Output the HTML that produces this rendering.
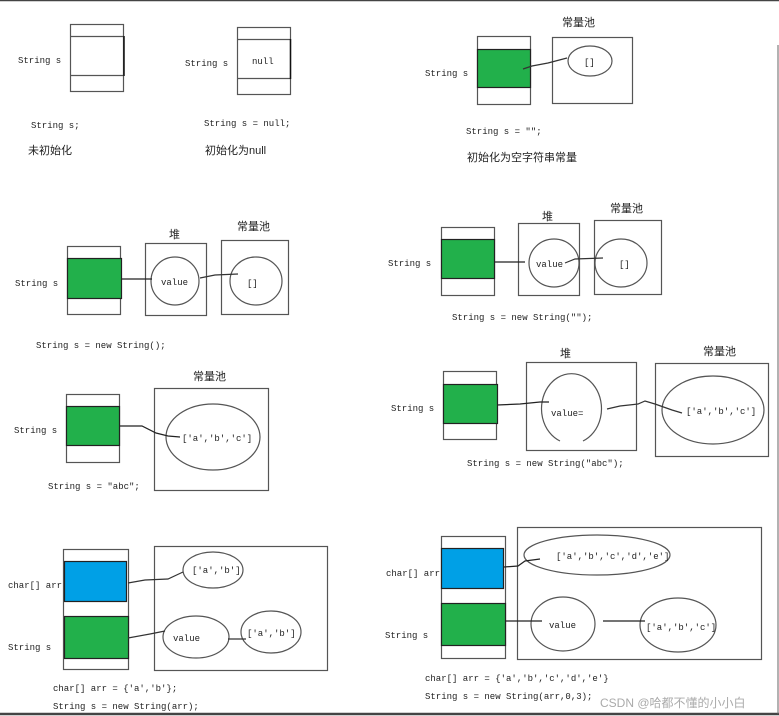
<!DOCTYPE html>
<html><head><meta charset="utf-8"><style>
html,body{margin:0;padding:0;background:#fff;}
svg{display:block;}
text{font-family:"Liberation Mono","Noto Sans CJK SC",monospace;font-size:9px;fill:#222;}
.c{font-family:"Liberation Sans","Noto Sans CJK SC",sans-serif;font-size:11px;}
</style></head><body>
<svg width="779" height="716" viewBox="0 0 779 716" xmlns="http://www.w3.org/2000/svg">
<g fill="none" stroke="#555" stroke-width="1.2">
<line x1="0" y1="0.5" x2="779" y2="0.5" stroke="#444" stroke-width="1.5"/>
<line x1="0" y1="714" x2="779" y2="714" stroke="#444" stroke-width="2.5"/>
<line x1="778" y1="45" x2="778" y2="714" stroke="#666" stroke-width="1"/>

<rect x="70.5" y="24.5" width="53" height="67"/>
<line x1="70" y1="36.5" x2="124" y2="36.5"/><line x1="70" y1="75.5" x2="124" y2="75.5"/>
<line x1="124" y1="36" x2="124" y2="76" stroke="#111" stroke-width="1.5"/>
<rect x="237.5" y="27.5" width="53" height="67"/>
<line x1="237" y1="39.5" x2="291" y2="39.5"/><line x1="237" y1="78.5" x2="291" y2="78.5"/>
<line x1="290.5" y1="39" x2="290.5" y2="79" stroke="#111" stroke-width="1.5"/>
<rect x="477.5" y="36.5" width="53" height="68"/>
<rect x="477.5" y="49.5" width="53" height="38" fill="#22b04b" stroke="#222"/>
<rect x="552.5" y="37.5" width="80" height="66"/>
<ellipse cx="590" cy="61" rx="22" ry="15"/>
<polyline points="523,69 532,66 548,63 567,58" stroke="#333"/>
<rect x="67.5" y="246.5" width="53" height="68"/>
<rect x="67.5" y="258.5" width="54" height="40" fill="#22b04b" stroke="#222"/>
<rect x="145.5" y="243.5" width="61" height="72"/>
<ellipse cx="175" cy="281" rx="24" ry="24"/>
<rect x="221.5" y="240.5" width="67" height="74"/>
<ellipse cx="256" cy="281" rx="26" ry="24"/>
<line x1="121" y1="279" x2="152" y2="279" stroke="#222"/>
<polyline points="200,278 215,275 238,274" stroke="#333"/>
<rect x="441.5" y="227.5" width="53" height="68"/>
<rect x="441.5" y="239.5" width="53" height="39" fill="#22b04b" stroke="#222"/>
<rect x="518.5" y="223.5" width="61" height="72"/>
<ellipse cx="554" cy="263" rx="25" ry="24"/>
<rect x="594.5" y="220.5" width="67" height="74"/>
<ellipse cx="621" cy="263" rx="26" ry="24"/>
<line x1="495" y1="262" x2="525" y2="262" stroke="#222"/>
<polyline points="565,263 575,259 603,258" stroke="#333"/>
<rect x="66.5" y="394.5" width="53" height="68"/>
<rect x="66.5" y="406.5" width="53" height="39" fill="#22b04b" stroke="#222"/>
<rect x="154.5" y="388.5" width="114" height="102"/>
<ellipse cx="213" cy="437" rx="47" ry="33"/>
<polyline points="120,426 142,426 156,433 168,436 180,437" stroke="#222"/>
<rect x="443.5" y="371.5" width="53" height="68"/>
<rect x="443.5" y="384.5" width="54" height="39" fill="#22b04b" stroke="#222"/>
<rect x="526.5" y="362.5" width="110" height="88"/>
<path d="M560,441 A30,35 0 1 1 583,441" />
<rect x="655.5" y="363.5" width="113" height="93"/>
<ellipse cx="713" cy="410" rx="51" ry="34"/>
<polyline points="497,405 520,404 540,402 549,402" stroke="#222"/>
<polyline points="607,409 620,406 638,404 645,401 655,404 672,410 682,413" stroke="#333"/>
<rect x="63.5" y="549.5" width="65" height="120"/>
<rect x="64.5" y="561.5" width="62" height="40" fill="#00a0e6" stroke="#222"/>
<rect x="64.5" y="616.5" width="64" height="42" fill="#22b04b" stroke="#222"/>
<rect x="154.5" y="546.5" width="173" height="124"/>
<ellipse cx="213" cy="570" rx="30" ry="18"/>
<ellipse cx="196" cy="637" rx="33" ry="21"/>
<ellipse cx="271" cy="632" rx="30" ry="21"/>
<polyline points="128,583 145,580 168,579 183,572" stroke="#333"/>
<polyline points="128,638 150,634 165,631" stroke="#333"/>
<line x1="228" y1="639" x2="246" y2="639" stroke="#333"/>
<rect x="441.5" y="536.5" width="64" height="122"/>
<rect x="441.5" y="548.5" width="62" height="40" fill="#00a0e6" stroke="#222"/>
<rect x="441.5" y="603.5" width="64" height="42" fill="#22b04b" stroke="#222"/>
<rect x="517.5" y="527.5" width="244" height="132"/>
<ellipse cx="597" cy="555" rx="73" ry="20"/>
<ellipse cx="563" cy="624" rx="32" ry="27"/>
<ellipse cx="678" cy="625" rx="38" ry="27"/>
<polyline points="504,567 518,566 525,561 540,559" stroke="#222"/>
<line x1="506" y1="621" x2="542" y2="621" stroke="#222"/>
<line x1="603" y1="621" x2="645" y2="621" stroke="#222"/>
</g>

<text x="18" y="63">String s</text>
<text x="31" y="128">String s;</text>
<text class="c" x="28" y="154">未初始化</text>
<text x="185" y="66">String s</text>
<text x="252" y="64">null</text>
<text x="204" y="126">String s = null;</text>
<text class="c" x="205" y="154">初始化为null</text>

<text x="425" y="76">String s</text>
<text x="584" y="65">[]</text>
<text class="c" x="562" y="26">常量池</text>
<text x="466" y="134">String s = "";</text>
<text class="c" x="467" y="161">初始化为空字符串常量</text>

<text x="15" y="286">String s</text>
<text x="161" y="285">value</text>
<text x="247" y="286">[]</text>
<text class="c" x="169" y="238">堆</text>
<text class="c" x="237" y="230">常量池</text>
<text x="36" y="348">String s = new String();</text>

<text x="388" y="266">String s</text>
<text x="536" y="267">value</text>
<text x="619" y="267">[]</text>
<text class="c" x="542" y="220">堆</text>
<text class="c" x="610" y="212">常量池</text>
<text x="452" y="320">String s = new String("");</text>

<text x="14" y="433">String s</text>
<text x="182" y="441">['a','b','c']</text>
<text class="c" x="193" y="380">常量池</text>
<text x="48" y="489">String s = "abc";</text>

<text x="391" y="411">String s</text>
<text x="551" y="416">value=</text>
<text x="686" y="414">['a','b','c']</text>
<text class="c" x="560" y="357">堆</text>
<text class="c" x="703" y="355">常量池</text>
<text x="467" y="466">String s = new String("abc");</text>

<text x="8" y="588">char[] arr</text>
<text x="8" y="650">String s</text>
<text x="192" y="573">['a','b']</text>
<text x="173" y="641">value</text>
<text x="247" y="636">['a','b']</text>
<text x="53" y="691">char[] arr = {'a','b'};</text>
<text x="53" y="709">String s = new String(arr);</text>

<text x="386" y="576">char[] arr</text>
<text x="385" y="638">String s</text>
<text x="556" y="559">['a','b','c','d','e']</text>
<text x="549" y="628">value</text>
<text x="646" y="630">['a','b','c']</text>
<text x="425" y="681">char[] arr = {'a','b','c','d','e'}</text>
<text x="425" y="699">String s = new String(arr,0,3);</text>
<text x="600" y="707" style="font-family:'Liberation Sans','Noto Sans CJK SC',sans-serif;font-size:12px;fill:#aaa;">CSDN @哈都不懂的小小白</text>
</svg>
</body></html>
